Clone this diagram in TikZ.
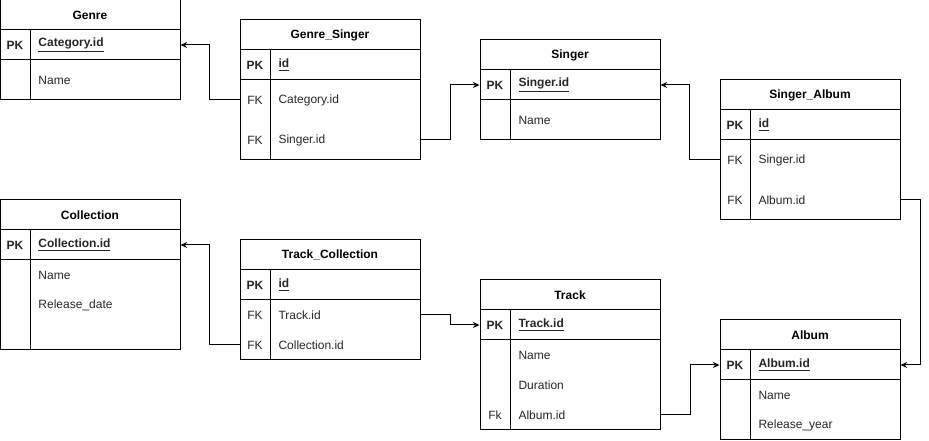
\documentclass[tikz,border=0pt]{standalone}
\usepackage{fontspec}
\setmainfont{Liberation Sans}
\usetikzlibrary{arrows.meta}

\tikzset{
  tbl/.style={draw, rectangle, minimum width=135pt, inner sep=0pt, line width=0.75pt},
  title/.style={font=\bfseries\fontsize{9}{11}\selectfont},
  key/.style={font=\fontsize{9}{11}\selectfont, text=black!85},
  pkey/.style={key, font=\bfseries\fontsize{9}{11}\selectfont},
  field/.style={anchor=west, inner sep=0pt, font=\fontsize{9}{11}\selectfont, text=black!85},
  pkfield/.style={field, font=\bfseries\fontsize{9}{11}\selectfont},
  link/.style={-{Stealth[length=5pt,width=4.5pt]}, line width=0.75pt},
}

\begin{document}
\begin{tikzpicture}[x=0.75pt,y=-0.75pt, line width=0.75pt]
    \useasboundingbox (0,0) rectangle (929,441);

    % Genre table
    \node[tbl, minimum height=75pt] (genre) at (90,50) {};
    \draw (0,30) -- (180,30) (0,60) -- (180,60) (30,30) -- (30,100);
    \node[title] (genreT) at (90,15) {Genre};
    \node[pkey] (genreK) at (15,45) {PK};
    \node[pkfield] (genreId) at (38,45) {\underline{Category.id}};
    \node[field] (genreName) at (38,80) {Name};

    % Genre_Singer table
    \node[tbl, minimum height=105pt] (gs) at (330,90) {};
    \draw (240,50) -- (420,50) (240,80) -- (420,80) (270,50) -- (270,160);
    \node[title] (gsT) at (330,35) {Genre\_Singer};
    \node[pkey] (gsK1) at (255,65) {PK};
    \node[pkfield] (gsId) at (278,65) {\underline{id}};
    \node[key] (gsK2) at (255,100) {FK};
    \node[field] (gsCat) at (278,100) {Category.id};
    \node[key] (gsK3) at (255,140) {FK};
    \node[field] (gsSinger) at (278,140) {Singer.id};

    % Singer table
    \node[tbl, minimum height=75pt] (singer) at (570,90) {};
    \draw (480,70) -- (660,70) (480,100) -- (660,100) (510,70) -- (510,140);
    \node[title] (singerT) at (570,55) {Singer};
    \node[pkey] (singerK) at (495,85) {PK};
    \node[pkfield] (singerId) at (518,85) {\underline{Singer.id}};
    \node[field] (singerName) at (518,120) {Name};

    % Singer_Album table
    \node[tbl, minimum height=105pt] (sa) at (810,150) {};
    \draw (720,110) -- (900,110) (720,140) -- (900,140) (750,110) -- (750,220);
    \node[title] (saT) at (810,95) {Singer\_Album};
    \node[pkey] (saK1) at (735,125) {PK};
    \node[pkfield] (saId) at (758,125) {\underline{id}};
    \node[key] (saK2) at (735,160) {FK};
    \node[field] (saSinger) at (758,160) {Singer.id};
    \node[key] (saK3) at (735,200) {FK};
    \node[field] (saAlbum) at (758,200) {Album.id};

    % Collection table
    \node[tbl, minimum height=112.5pt] (coll) at (90,275) {};
    \draw (0,230) -- (180,230) (0,260) -- (180,260) (30,230) -- (30,350);
    \node[title] (collT) at (90,215) {Collection};
    \node[pkey] (collK) at (15,245) {PK};
    \node[pkfield] (collId) at (38,245) {\underline{Collection.id}};
    \node[field] (collName) at (38,275) {Name};
    \node[field] (collDate) at (38,305) {Release\_date};

    % Track_Collection table
    \node[tbl, minimum height=90pt] (tc) at (330,300) {};
    \draw (240,270) -- (420,270) (240,300) -- (420,300) (270,270) -- (270,360);
    \node[title] (tcT) at (330,255) {Track\_Collection};
    \node[pkey] (tcK1) at (255,285) {PK};
    \node[pkfield] (tcId) at (278,285) {\underline{id}};
    \node[key] (tcK2) at (255,315) {FK};
    \node[field] (tcTrack) at (278,315) {Track.id};
    \node[key] (tcK3) at (255,345) {FK};
    \node[field] (tcColl) at (278,345) {Collection.id};

    % Track table
    \node[tbl, minimum height=112.5pt] (track) at (570,355) {};
    \draw (480,310) -- (660,310) (480,340) -- (660,340) (510,310) -- (510,430);
    \node[title] (trackT) at (570,295) {Track};
    \node[pkey] (trackK1) at (495,325) {PK};
    \node[pkfield] (trackId) at (518,325) {\underline{Track.id}};
    \node[field] (trackName) at (518,355) {Name};
    \node[field] (trackDur) at (518,385) {Duration};
    \node[key] (trackK2) at (495,415) {Fk};
    \node[field] (trackAlbum) at (518,415) {Album.id};

    % Album table
    \node[tbl, minimum height=90pt] (album) at (810,380) {};
    \draw (720,350) -- (900,350) (720,380) -- (900,380) (750,350) -- (750,440);
    \node[title] (albumT) at (810,335) {Album};
    \node[pkey] (albumK) at (735,365) {PK};
    \node[pkfield] (albumId) at (758,365) {\underline{Album.id}};
    \node[field] (albumName) at (758,395) {Name};
    \node[field] (albumYear) at (758,425) {Release\_year};

    % draw connectors
    \draw[link] (gs.west |- gsCat) -- ++(-30,0) |- (genre.east |- genreId);
    \draw[link] (gs.east |- gsSinger) -- ++(30,0) |- (singer.west |- singerId);
    \draw[link] (sa.west |- saSinger) -- ++(-30,0) |- (singer.east |- singerId);
    \draw[link] (sa.east |- saAlbum) -- ++(20,0) |- (album.east |- albumId);
    \draw[link] (tc.west |- tcColl) -- ++(-30,0) |- (coll.east |- collId);
    \draw[link] (tc.east |- tcTrack) -- ++(30,0) |- (track.west |- trackId);
    \draw[link] (track.east |- trackAlbum) -- ++(30,0) |- (album.west |- albumId);
\end{tikzpicture}
\end{document}
